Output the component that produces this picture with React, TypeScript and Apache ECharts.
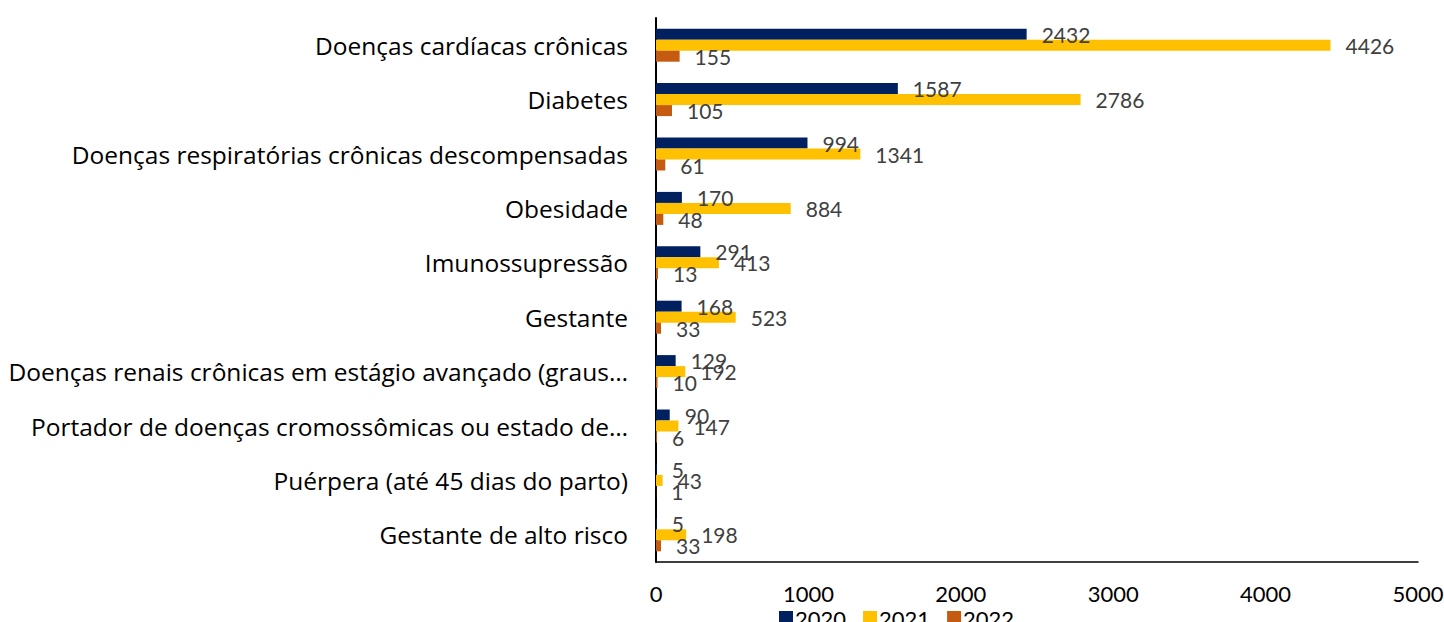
import React, { useEffect, useRef } from "react";
import * as echarts from "echarts";

const categories = [
  "Doenças cardíacas crônicas",
  "Diabetes",
  "Doenças respiratórias crônicas descompensadas",
  "Obesidade",
  "Imunossupressão",
  "Gestante",
  "Doenças renais crônicas em estágio avançado (graus…",
  "Portador de doenças cromossômicas ou estado de…",
  "Puérpera (até 45 dias do parto)",
  "Gestante de alto risco",
];
const v2020 = [2432, 1587, 994, 170, 291, 168, 129, 90, 5, 5];
const v2021 = [4426, 2786, 1341, 884, 413, 523, 192, 147, 43, 198];
const v2022 = [155, 105, 61, 48, 13, 33, 10, 6, 1, 33];
const seriesNames = ["2020", "2021", "2022"];
const colors = ["#002060", "#FFC000", "#C55A11"];

const FONT = "Lato, 'Open Sans', sans-serif";
const CAT_FONT = "'Open Sans', sans-serif";

export default function App() {
  const ref = useRef<HTMLDivElement>(null);
  useEffect(() => {
    if (!ref.current) return;
    const chart = echarts.init(ref.current, undefined, { renderer: "svg" });
    const data = [v2020, v2021, v2022];
    chart.setOption({
      animation: false,
      textStyle: { fontFamily: FONT },
      grid: { left: 656, right: 26, top: 18, bottom: 60, containLabel: false, outerBoundsMode: "none" },
      legend: {
        data: seriesNames,
        left: 774,
        top: 602,
        itemWidth: 14,
        itemHeight: 14,
        itemGap: 17,
        icon: "rect",
        textStyle: { fontSize: 22, color: "#000", fontFamily: FONT, padding: [0, 0, 0, -3] },
      },
      xAxis: {
        type: "value",
        min: 0,
        max: 5000,
        interval: 1000,
        axisLine: { show: true, lineStyle: { color: "#000", width: 1.5 } },
        axisTick: { show: false },
        splitLine: { show: false },
        axisLabel: {
          fontSize: 22,
          color: "#000",
          margin: 20,
          fontFamily: FONT,
          formatter: (v: number) => String(v),
        },
      },
      yAxis: {
        type: "category",
        data: categories,
        inverse: true,
        axisLine: { show: true, lineStyle: { color: "#000", width: 2 } },
        axisTick: { show: false },
        axisLabel: { fontSize: 24.5, color: "#000", margin: 28, fontFamily: CAT_FONT, lineHeight: 30, padding: [4, 0, 0, 0] },
      },
      series: data.map((d, i) => ({
        name: seriesNames[i],
        type: "bar",
        data: d,
        barWidth: 11,
        barGap: "0%",
        itemStyle: { color: colors[i] },
        label: {
          show: true,
          position: "right",
          distance: 15,
          fontSize: 21,
          color: "#404040",
          fontFamily: FONT,
        },
      })),
    });
    return () => chart.dispose();
  }, []);
  return <div ref={ref} style={{ width: 1444, height: 622, position: "absolute", left: 0, top: 0 }} />;
}
